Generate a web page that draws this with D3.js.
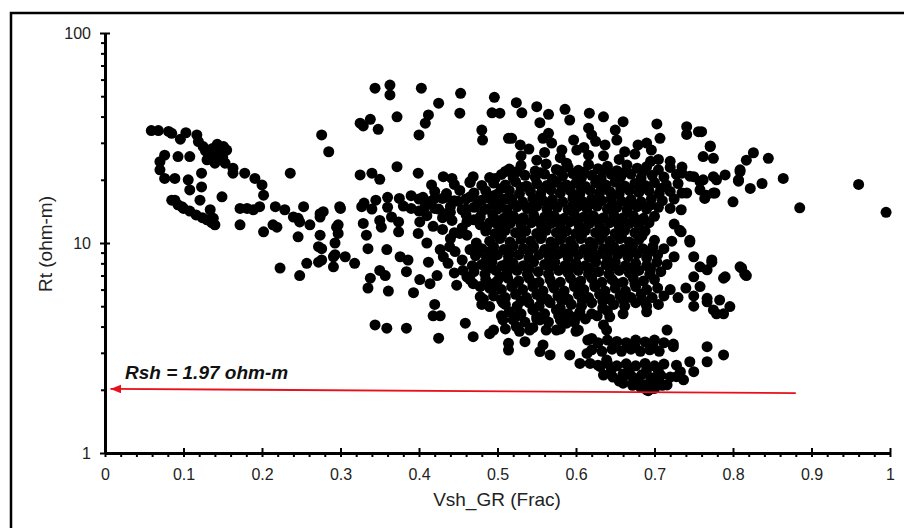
<!DOCTYPE html>
<html>
<head>
<meta charset="utf-8">
<script src="https://cdn.jsdelivr.net/npm/d3@7"></script>
<style>
  body { margin: 0; background: #fff; }
  text { font-family: Arial, "Liberation Sans", sans-serif; }
</style>
</head>
<body>
<svg id="chart" width="904" height="528"></svg>
<script>
// axis ticks
var vshTicks = [0, 0.1, 0.2, 0.3, 0.4, 0.5, 0.6, 0.7, 0.8, 0.9, 1];
var rtTicks = [1, 10, 100];
var rtMinor = [2, 3, 4, 5, 6, 7, 8, 9, 20, 30, 40, 50, 60, 70, 80, 90];
var rshValue = 1.97;

var tailPoints = [
  [0.059,34.3],[0.068,34.3],[0.081,34],[0.085,33.3],[0.096,31.2],[0.103,33.5],[0.117,32.7],[0.119,30.4],[0.125,28.8],
  [0.134,27.7],[0.142,27.7],[0.151,28.8],[0.155,27.7],[0.149,25.8],[0.138,25.8],[0.13,24.9],[0.14,24],[0.153,24],
  [0.163,22.7],[0.163,21.5],[0.178,21.5],[0.191,20.3],[0.2,18.9],[0.202,16.9],[0.217,14.9],[0.229,14.4],[0.24,13.3],
  [0.246,13.1],[0.248,12.6],[0.261,12.2],[0.274,13.8],[0.253,14.9],[0.274,10.9],[0.272,9.6],[0.272,8.1],[0.257,8.0],
  [0.248,7.0],[0.223,7.6],[0.246,10.7],[0.214,12.2],[0.219,11.9],[0.202,11.3],[0.172,12.2],[0.172,14.6],[0.181,14.6],
  [0.189,14.4],[0.197,14.9],[0.149,16.6],[0.14,12.2],[0.138,13.1],[0.134,14.4],[0.121,16],[0.108,17.9],[0.106,20],
  [0.123,21.5],[0.123,18.5],[0.098,14.9],[0.089,16],[0.089,20.3],[0.076,20.3],[0.07,22.3],[0.076,26.2],[0.07,24.4],
  [0.093,25.8],[0.108,25.8],[0.236,21.5],[0.276,32.7],[0.285,27.2],[0.3,14.6],[0.295,11.9],[0.293,10],[0.291,8.6],
  [0.291,7.7],[0.085,16],[0.093,15.2],[0.1,14.6],[0.108,14.2],[0.116,13.6],[0.124,13.2],[0.13,12.9],[0.136,12.5],
  [0.135,26.5],[0.14,27],[0.145,26],[0.15,25.5],[0.128,27.5],[0.143,29.5],[0.137,28.2]
];

var upperPoints = [
  [0.344,54.6],[0.363,56.5],[0.363,50.7],[0.403,54.6],[0.453,51.6],[0.496,49.4],[0.493,41.7],[0.503,41.5],[0.452,41.5],
  [0.425,46.3],[0.412,40.7],[0.408,37.2],[0.4,32.7],[0.372,39.9],[0.338,38.8],[0.325,37.2],[0.329,36.1],[0.348,34.8],
  [0.48,34.5],[0.481,30.9],[0.514,31.5],[0.372,23.1],[0.399,21.5],[0.325,21.1],[0.34,21.5],[0.35,20.1],[0.431,20.7],
  [0.442,20.3],[0.416,18.9],[0.469,20.7],[0.465,19.6],[0.497,20.3],[0.51,21.9],
  [0.524,46.6],[0.531,41.7],[0.55,44.6],[0.565,41],[0.554,37.4],[0.586,43.3],[0.592,38.5],[0.617,41.5],[0.635,39.9],
  [0.66,37.8],[0.703,36.9],[0.741,35.8],[0.741,32.9],[0.756,33.9],[0.771,28.8],[0.762,25.8],[0.775,25.3],[0.826,26.9],
  [0.817,24.8],[0.809,22.3],[0.807,20],[0.822,18.2],[0.8,15.7],[0.79,21.1],[0.779,20],
  [0.565,33.3],[0.569,29.9],[0.558,31.5],[0.518,31.5],[0.529,29.3],[0.55,24.8],[0.582,27.7],[0.597,30.9],[0.601,27.7],
  [0.616,35.2],[0.62,32.7],[0.637,29.3],[0.65,34.5],[0.652,30.9],[0.662,27.2],[0.679,29.3],[0.69,29.9],[0.707,31.5],
  [0.696,27.7],[0.616,26.2],[0.588,24],[0.72,24.5],[0.735,23],[0.705,25],
  [0.53,26],[0.56,27],[0.58,25.5],[0.61,28.5],[0.635,26],[0.655,25],[0.675,26.5],[0.695,24.5],[0.54,28],[0.625,30.5]
];

var rightPoints = [
  [0.76,33.9],[0.771,29],[0.845,25.3],[0.809,21.9],[0.807,19.7],[0.837,19.2],[0.864,20.3],[0.96,19],[0.885,14.7],
  [0.995,14],[0.777,17.3],[0.764,16.3],[0.758,19.6],[0.735,21.5],[0.75,20.7],[0.762,20],[0.775,20.7],[0.758,17.9],
  [0.741,17.3],[0.766,16.9],[0.775,17.3],[0.734,14.4],[0.734,11.3],[0.745,10.1],[0.773,8.3],[0.811,7.6],[0.817,7.0],
  [0.79,6.9],[0.758,7.7],[0.788,6.8],[0.809,7.7],[0.815,7.1],[0.75,8.6],[0.745,10.3],[0.732,11.5],[0.75,6.9],
  [0.758,6.2],[0.767,5.45],[0.75,5.0],[0.775,4.8],[0.788,4.6],[0.783,5.35],[0.767,7.45],[0.773,8.1],[0.767,5.25],
  [0.796,4.98],[0.779,4.6],[0.767,3.21],[0.788,2.93],[0.767,2.72],[0.745,2.72],[0.75,2.44],[0.737,2.23],[0.728,2.62],
  [0.716,3.85],[0.724,3.21]
];

var midPoints = [
  [0.33,15.5],[0.345,16],[0.36,16.5],[0.375,16.3],[0.39,16.8],[0.405,16.5],[0.42,16.3],[0.435,16.5],[0.45,15.8],
  [0.465,16.6],[0.48,16],[0.495,16.8],[0.51,16.2],[0.34,14.5],[0.36,14.8],[0.38,15],[0.4,14.2],[0.42,14.6],[0.44,14],
  [0.46,14.5],[0.48,14.2],[0.5,14.5],[0.299,14.9],[0.278,14.1],[0.327,14.9],[0.274,13.3],[0.276,9.4],[0.276,8.3],
  [0.297,12.2],[0.297,11.1],[0.293,8.8],[0.306,8.6],[0.318,8.0],[0.329,12.4],[0.333,10.9],[0.335,9.4],[0.338,6.8],
  [0.335,6.1],[0.35,7.4],[0.357,7.0],[0.361,5.9],[0.359,9.3],[0.374,11.3],[0.376,8.6],[0.386,8.3],[0.384,7.3],
  [0.393,5.8],[0.399,11.1],[0.401,6.7],[0.41,10],[0.412,8.1],[0.414,6.4],[0.423,7.0],[0.42,5.1],[0.418,4.5],
  [0.427,4.5],[0.344,4.07],[0.359,3.93],[0.384,3.93],[0.425,3.52],[0.459,4.15],[0.469,3.58],[0.427,9.3],[0.431,8.6],
  [0.439,9.6],[0.446,9.1],[0.437,8.0],[0.461,12.6],[0.461,10.9],[0.473,10],[0.465,9.3],[0.448,6.3],[0.461,6.9],
  [0.469,6.4],[0.482,5.4],[0.495,6.2],[0.503,6.9],[0.507,5.2],[0.505,4.5],[0.49,3.7],[0.401,12.6],[0.406,14.4],
  [0.374,12.6],[0.365,13.3],[0.35,12.8],[0.352,11.9],[0.442,12.8],[0.433,13.8],[0.452,11.1],[0.486,11.9],[0.499,12.4],
  [0.495,8.9],[0.512,8.0],[0.48,5.1],[0.514,3.09],[0.514,3.33],[0.535,3.39],[0.554,3.04],[0.567,2.93],[0.558,3.27],
  [0.592,2.93],[0.605,2.67],[0.618,2.67],[0.614,2.98],[0.631,2.58],[0.639,2.77],[0.639,3.85],[0.643,4.45],[0.635,4.07],
  [0.62,3.51],[0.603,3.85],[0.588,4.15],[0.575,3.85],[0.554,4.3],[0.541,3.85],[0.524,4.0],[0.507,4.3],[0.495,3.85],
  [0.49,4.98],[0.478,5.55],[0.465,6.7],[0.456,7.4],
  [0.44,10.5],[0.455,11.8],[0.47,12.9],[0.475,9.0],[0.455,8.3],[0.468,7.8],[0.445,7.2],[0.478,6.2],[0.43,11.6],[0.418,12.0]
];

var corePoints = [
  [0.515,22.5],[0.53,23.4],[0.548,22],[0.562,23.8],[0.575,22.4],[0.59,23],[0.603,22.2],[0.616,23.6],[0.628,22.6],
  [0.64,23.2],[0.652,22.1],[0.665,23.5],[0.678,22.7],[0.69,23.1],[0.705,22.3],[0.72,22.9],
  [0.525,21.9],[0.555,21.6],[0.58,22],[0.61,21.7],[0.635,22.1],[0.66,21.6],[0.685,21.9],
  [0.49,20.5],[0.505,21.2],[0.52,20.4],[0.535,21],[0.548,20.6],[0.56,21.3],[0.57,20.2],[0.583,20.9],[0.596,21.4],
  [0.607,20.5],[0.62,21],[0.632,20.3],[0.645,21.2],[0.657,20.7],[0.67,21.3],[0.683,20.4],[0.697,21],[0.712,20.6],
  [0.728,21.2],[0.745,20.8],
  [0.445,19],[0.465,19.4],[0.48,18.8],[0.495,19.3],[0.51,18.9],[0.523,19.6],[0.537,18.7],[0.55,19.2],[0.563,18.8],
  [0.575,19.5],[0.588,18.9],[0.6,19.3],[0.612,18.6],[0.625,19.4],[0.638,18.9],[0.65,19.5],[0.662,18.7],[0.675,19.2],
  [0.688,18.8],[0.7,19.4],[0.715,18.9],[0.73,19.2],
  [0.505,18.2],[0.53,18.4],[0.557,18.1],[0.582,18.5],[0.607,18.2],[0.632,18.4],[0.657,18.1],[0.682,18.4],[0.708,18.2],
  [0.42,17.6],[0.435,17.2],[0.452,17.8],[0.47,17.3],[0.485,17.7],[0.5,17.1],[0.515,17.8],[0.528,17.2],[0.542,17.6],
  [0.555,17.1],[0.568,17.9],[0.58,17.3],[0.593,17.7],[0.605,17.2],[0.618,17.8],[0.63,17.3],[0.643,17.6],[0.655,17.1],
  [0.668,17.8],[0.68,17.4],[0.693,17.7],[0.706,17.2],[0.72,17.6],[0.735,17.3],
  [0.40,16.2],[0.415,15.8],[0.43,16.3],[0.445,15.9],[0.46,16.2],[0.475,15.7],[0.49,16.3],[0.505,15.8],[0.518,16.2],
  [0.532,15.7],[0.545,16.3],[0.558,15.9],[0.57,16.1],[0.583,15.7],[0.596,16.3],[0.608,15.8],[0.62,16.2],[0.633,15.9],
  [0.645,16.3],[0.658,15.8],[0.67,16.1],[0.683,15.7],[0.696,16.2],[0.71,15.9],[0.725,16.2],
  [0.495,15.3],[0.52,15.4],[0.545,15.2],[0.57,15.4],[0.596,15.2],[0.62,15.4],[0.646,15.2],[0.67,15.3],[0.695,15.2],
  [0.39,14.6],[0.408,15],[0.425,14.5],[0.44,14.9],[0.455,14.4],[0.47,14.8],[0.486,14.5],[0.5,15],[0.512,14.4],
  [0.525,14.9],[0.538,14.6],[0.55,15],[0.563,14.5],[0.576,14.8],[0.59,14.4],[0.602,14.9],[0.614,14.6],[0.627,15],
  [0.64,14.5],[0.652,14.8],[0.665,14.4],[0.678,14.9],[0.69,14.5],[0.705,14.8],[0.72,14.6],
  [0.41,13.5],[0.43,13.2],[0.46,13.6],[0.478,13.3],[0.494,13.6],[0.508,13.1],[0.52,13.5],[0.533,13.2],[0.546,13.6],
  [0.56,13.3],[0.572,13.5],[0.585,13.1],[0.598,13.6],[0.61,13.3],[0.622,13.5],[0.635,13.2],[0.648,13.6],[0.66,13.2],
  [0.673,13.5],[0.686,13.1],[0.7,13.4],
  [0.5,12.8],[0.527,12.9],[0.552,12.7],[0.578,12.9],[0.603,12.8],[0.628,12.9],[0.654,12.7],[0.68,12.8],
  [0.478,12.2],[0.49,12.5],[0.503,12.1],[0.516,12.4],[0.53,12.2],[0.543,12.5],[0.556,12.1],[0.568,12.4],[0.58,12.2],
  [0.592,12.6],[0.604,12.1],[0.617,12.4],[0.63,12.2],[0.643,12.5],[0.655,12.1],[0.668,12.4],[0.68,12.2],[0.693,12.5],
  [0.725,12.3],
  [0.445,11.2],[0.485,11.4],[0.497,11.1],[0.51,11.5],[0.523,11.2],[0.536,11.4],[0.55,11.1],[0.562,11.5],[0.575,11.2],
  [0.588,11.4],[0.6,11.1],[0.612,11.5],[0.625,11.2],[0.637,11.4],[0.65,11.1],[0.662,11.5],[0.675,11.2],[0.688,11.4],
  [0.505,10.8],[0.53,10.9],[0.556,10.7],[0.582,10.9],[0.607,10.8],[0.633,10.9],[0.658,10.7],[0.684,10.8],
  [0.49,10.2],[0.503,10.5],[0.516,10.1],[0.53,10.4],[0.542,10.2],[0.555,10.5],[0.568,10.1],[0.58,10.4],[0.593,10.2],
  [0.606,10.5],[0.618,10.1],[0.63,10.4],[0.643,10.2],[0.656,10.5],[0.668,10.1],[0.68,10.4],[0.7,10.3],[0.722,10.2],
  [0.48,9.4],[0.495,9.6],[0.508,9.3],[0.52,9.7],[0.533,9.4],[0.546,9.6],[0.56,9.3],[0.572,9.7],[0.585,9.4],
  [0.597,9.6],[0.61,9.3],[0.622,9.7],[0.635,9.4],[0.648,9.6],[0.66,9.3],[0.672,9.7],[0.685,9.4],[0.698,9.6],[0.712,9.4],
  [0.49,9.1],[0.515,9.0],[0.54,9.15],[0.566,9.0],[0.591,9.1],[0.617,9.0],[0.642,9.15],[0.667,9.0],[0.693,9.1],
  [0.472,8.7],[0.486,8.5],[0.5,8.8],[0.514,8.6],[0.527,8.8],[0.54,8.5],[0.553,8.8],[0.566,8.6],[0.578,8.9],
  [0.59,8.5],[0.603,8.8],[0.616,8.6],[0.628,8.8],[0.64,8.5],[0.653,8.8],[0.666,8.6],[0.678,8.9],[0.69,8.5],
  [0.704,8.8],[0.725,8.6],
  [0.48,7.9],[0.493,8.1],[0.506,7.8],[0.52,8.0],[0.533,7.8],[0.546,8.1],[0.56,7.9],[0.573,8.1],[0.586,7.8],
  [0.6,8.0],[0.612,7.8],[0.625,8.1],[0.638,7.9],[0.65,8.1],[0.663,7.8],[0.676,8.0],[0.69,7.8],[0.703,8.1],[0.716,7.9],
  [0.49,7.6],[0.515,7.65],[0.54,7.55],[0.566,7.65],[0.592,7.6],[0.618,7.55],[0.643,7.65],[0.668,7.6],[0.695,7.55],
  [0.47,7.3],[0.484,7.1],[0.498,7.4],[0.512,7.2],[0.525,7.4],[0.538,7.1],[0.552,7.3],[0.565,7.1],[0.578,7.4],
  [0.59,7.2],[0.603,7.4],[0.616,7.1],[0.629,7.3],[0.642,7.1],[0.655,7.4],[0.668,7.2],[0.68,7.4],[0.694,7.1],[0.708,7.3],
  [0.485,6.7],[0.5,6.6],[0.513,6.8],[0.527,6.6],[0.54,6.8],[0.553,6.5],[0.567,6.7],[0.58,6.5],[0.593,6.8],
  [0.606,6.6],[0.62,6.8],[0.633,6.5],[0.646,6.7],[0.66,6.5],[0.673,6.8],[0.686,6.6],[0.7,6.7],
  [0.495,6.4],[0.52,6.35],[0.545,6.45],[0.57,6.35],[0.598,6.4],[0.624,6.35],[0.65,6.45],[0.675,6.4],
  [0.49,6.1],[0.505,6.0],[0.518,6.2],[0.532,6.0],[0.545,6.2],[0.558,5.9],[0.572,6.1],[0.585,5.9],[0.598,6.2],
  [0.61,6.0],[0.624,6.2],[0.637,5.9],[0.65,6.1],[0.663,5.9],[0.676,6.2],[0.69,6.0],[0.704,6.1],[0.72,6.0],[0.74,6.1],
  [0.495,5.6],[0.51,5.5],[0.523,5.7],[0.537,5.5],[0.55,5.7],[0.563,5.4],[0.577,5.6],[0.59,5.4],[0.603,5.7],
  [0.616,5.5],[0.63,5.7],[0.643,5.4],[0.656,5.6],[0.67,5.5],[0.683,5.7],[0.697,5.5],[0.712,5.6],[0.73,5.5],[0.75,5.6],
  [0.505,5.35],[0.53,5.3],[0.556,5.38],[0.582,5.3],[0.608,5.35],[0.634,5.3],[0.66,5.38],[0.686,5.3],
  [0.51,5.1],[0.525,5.0],[0.54,5.2],[0.553,5.0],[0.567,5.2],[0.58,4.9],[0.594,5.1],[0.607,5.0],[0.62,5.2],
  [0.634,4.9],[0.648,5.1],[0.662,5.0],[0.676,5.2],[0.69,5.0],[0.705,5.1],
  [0.515,4.7],[0.53,4.6],[0.545,4.8],[0.56,4.6],[0.575,4.8],[0.59,4.6],[0.605,4.7],[0.62,4.6],[0.64,4.75],[0.66,4.6],[0.69,4.7],
  [0.525,4.5],[0.55,4.45],[0.578,4.52],[0.6,4.45],[0.627,4.5],
  [0.52,4.3],[0.535,4.2],[0.55,4.35],[0.565,4.2],[0.58,4.3],[0.598,4.2],[0.612,4.35],
  [0.51,3.9],[0.528,3.8],[0.545,3.95],[0.562,3.85],[0.58,3.9],[0.6,3.8]
];

var basePoints = [
  [0.615,3.45],[0.628,3.35],[0.64,3.45],[0.652,3.4],[0.664,3.35],[0.676,3.45],[0.688,3.38],[0.70,3.45],[0.712,3.35],[0.724,3.3],
  [0.62,3.1],[0.633,3.05],[0.646,3.12],[0.658,3.05],[0.67,3.12],[0.682,3.05],[0.694,3.1],[0.706,3.05],
  [0.65,3.25],[0.675,3.22],[0.698,3.25],
  [0.628,2.62],[0.64,2.68],[0.652,2.6],[0.664,2.66],[0.676,2.6],[0.688,2.67],[0.7,2.6],[0.712,2.65],
  [0.645,2.5],[0.668,2.48],[0.69,2.5],[0.705,2.45],
  [0.635,2.35],[0.647,2.3],[0.66,2.38],[0.672,2.3],[0.684,2.36],[0.696,2.28],[0.708,2.34],[0.72,2.3],
  [0.655,2.2],[0.678,2.22],[0.7,2.2],
  [0.66,2.15],[0.672,2.1],[0.683,2.05],[0.692,1.98],[0.7,2.03],[0.71,2.1],[0.68,2.15],[0.69,2.12],
  [0.66,2.31],[0.673,2.15],[0.682,2.07],[0.69,2.0],[0.696,2.03],[0.707,2.15],[0.716,2.11],[0.728,2.31],[0.733,2.44]
];

var allPoints = [].concat(tailPoints, upperPoints, rightPoints, midPoints, corePoints, basePoints);

var svg = d3.select("#chart"),
    margin = {top: 33, left: 105, bottom: 75, right: 14},
    width = 904,
    height = 528;

var x = d3.scaleLinear()
    .domain([0, 1])
    .range([margin.left, width - margin.right]);

var y = d3.scaleLog()
    .domain([1, 100])
    .range([height - margin.bottom, margin.top]);

svg.append("rect").attr("width", width).attr("height", height).attr("fill", "#fff");

// outer frame (right and bottom edges run off the picture)
svg.append("rect")
    .attr("x", 11).attr("y", 13)
    .attr("width", 910).attr("height", 530)
    .attr("fill", "none").attr("stroke", "#000").attr("stroke-width", 2.5);

// points
svg.append("g").selectAll("circle")
    .data(allPoints)
    .enter().append("circle")
    .attr("cx", d => x(d[0]))
    .attr("cy", d => y(d[1]))
    .attr("r", 5.5)
    .attr("fill", "#000");

// minor ticks
svg.append("g")
    .attr("transform", `translate(0,${y(1)})`)
    .call(d3.axisBottom(x).tickValues(d3.range(1, 50).filter(i => i % 5 != 0).map(i => i / 50)).tickSize(4).tickFormat(""))
    .call(g => g.select(".domain").remove())
    .selectAll(".tick line").attr("stroke-width", 2);

svg.append("g")
    .attr("transform", `translate(${x(0)},0)`)
    .call(d3.axisLeft(y).tickValues(rtMinor).tickSize(4).tickFormat(""))
    .call(g => g.select(".domain").remove())
    .selectAll(".tick line").attr("stroke-width", 2);

// x axis
var xAxis = svg.append("g")
    .attr("transform", `translate(0,${y(1)})`)
    .call(d3.axisBottom(x).tickValues(vshTicks).tickSizeOuter(0).tickFormat(d3.format("~g")));
xAxis.select(".domain").attr("stroke-width", 3);
xAxis.selectAll(".tick line").attr("y1", -5).attr("y2", 4).attr("stroke-width", 2);
xAxis.selectAll("text").attr("y", 27).attr("dy", 0)
    .style("font-size", "16px").attr("fill", "#222");

// y axis
var yAxis = svg.append("g")
    .attr("transform", `translate(${x(0)},0)`)
    .call(d3.axisLeft(y).tickValues(rtTicks).tickSizeOuter(0).tickFormat(d3.format("~g")));
yAxis.select(".domain").attr("stroke-width", 3);
yAxis.selectAll(".tick line").attr("x1", -5).attr("x2", 5).attr("stroke-width", 2);
yAxis.selectAll("text").attr("x", -14)
    .style("font-size", "16px").attr("fill", "#222");

// titles
svg.append("text")
    .attr("x", 497).attr("y", 506)
    .attr("text-anchor", "middle")
    .style("font-size", "19px").attr("fill", "#222")
    .text("Vsh_GR (Frac)");

svg.append("text")
    .attr("transform", "translate(52,244) rotate(-90)")
    .attr("text-anchor", "middle")
    .style("font-size", "19px").attr("fill", "#222")
    .text("Rt (ohm-m)");

// Rsh arrow
svg.append("defs").append("marker")
    .attr("id", "head")
    .attr("markerUnits", "userSpaceOnUse")
    .attr("markerWidth", 12).attr("markerHeight", 10)
    .attr("refX", 11).attr("refY", 4.5)
    .attr("orient", "auto")
    .append("path").attr("d", "M0,0 L11,4.5 L0,9 Z").attr("fill", "#e8101a");

svg.append("line")
    .attr("x1", x(0.88)).attr("y1", y(1.93))
    .attr("x2", x(0.007)).attr("y2", y(2.02))
    .attr("stroke", "#e8101a").attr("stroke-width", 1.8)
    .attr("marker-end", "url(#head)");

svg.append("text")
    .attr("x", 125).attr("y", 379)
    .style("font-size", "19px").style("font-weight", "bold").style("font-style", "italic")
    .attr("fill", "#111")
    .text("Rsh = " + rshValue + " ohm-m");
</script>
</body>
</html>
